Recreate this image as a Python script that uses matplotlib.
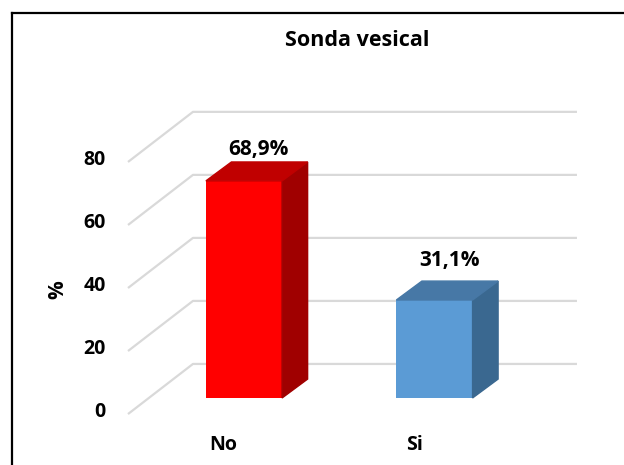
import matplotlib.pyplot as plt
from matplotlib.patches import Polygon
import numpy as np

# Datos
categorias = ['No', 'Si']
valores = [68.9, 31.1]
etiquetas = ['68,9%', '31,1%']
marcas_y = [0, 20, 40, 60, 80]

# Estilo
colores_frente = ['#FF0000', '#5B9BD5']
colores_lado = ['#A00000', '#3A6890']
colores_arriba = ['#C00000', '#4778A6']
desplaz_etiqueta = [10.1, 12.4]
ancho = 0.4
prof_x, prof_y = 0.134, 6.0   # profundidad de la barra 3D

plt.rcParams['font.family'] = ['Open Sans', 'DejaVu Sans']
plt.rcParams['font.weight'] = 'bold'

fig = plt.figure(figsize=(6.24, 4.65), dpi=100)
ax = fig.add_axes([0, 0, 1, 1])
ax.set_xlim(-1.281, 1.995)
ax.set_ylim(-21.27, 126.3)
ax.axis('off')

# Rejilla en perspectiva
for t in marcas_y:
    ax.plot([-0.609, -0.268, 1.748], [t - 5.1, t + 10.8, t + 10.8],
            color='#D9D9D9', lw=1.6, zorder=0, solid_capstyle='butt')
    ax.text(-0.725, t - 4.6, str(t), ha='right', va='center', fontsize=14)

x = np.arange(len(categorias))
ax.bar(x, valores, width=ancho, color=colores_frente, zorder=3)
for i, v in enumerate(valores):
    xd = x[i] + ancho / 2
    lado = [(xd, 0), (xd + prof_x, prof_y), (xd + prof_x, v + prof_y), (xd, v)]
    arriba = [(xd - ancho, v), (xd, v), (xd + prof_x, v + prof_y),
              (xd - ancho + prof_x, v + prof_y)]
    ax.add_patch(Polygon(lado, closed=True, color=colores_lado[i], zorder=3))
    ax.add_patch(Polygon(arriba, closed=True, color=colores_arriba[i], zorder=3))
    ax.text(x[i] + 0.078, v + desplaz_etiqueta[i], etiquetas[i],
            ha='center', va='center', fontsize=15)
    ax.text(x[i] - 0.107, -14.9, categorias[i], ha='center', va='center', fontsize=14)

fig.text(0.572, 1 - 40 / 465, 'Sonda vesical', ha='center', va='center', fontsize=15.5)
fig.text(58 / 624, 1 - 290 / 465, '%', ha='center', va='center', rotation=90, fontsize=15)

# Borde
bx, by = 12 / 624, 1 - 13 / 465
fig.add_artist(plt.Line2D([bx, bx], [0, by], color='black', lw=1.6))
fig.add_artist(plt.Line2D([bx, 1], [by, by], color='black', lw=1.6))

fig.savefig('out.png', dpi=100)
